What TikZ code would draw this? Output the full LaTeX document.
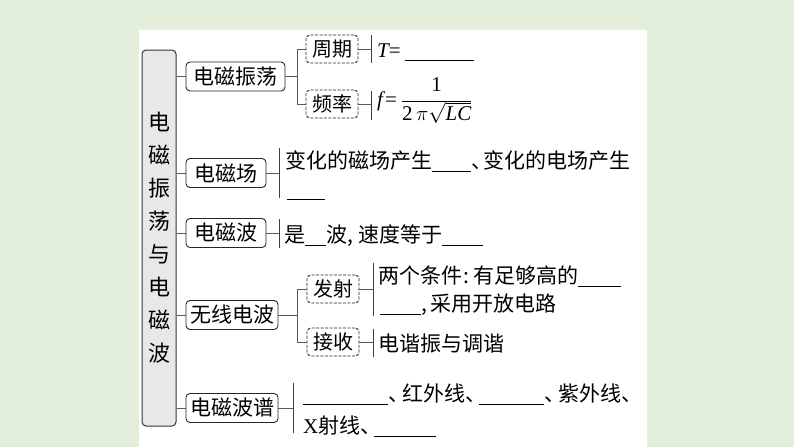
\documentclass[tikz,border=0pt]{standalone}
\usepackage{fontspec}
\setmainfont{Liberation Serif}
\newfontfamily\cjk{Noto Sans CJK SC}
\newcommand\blank[1]{\rule[-4pt]{#1}{0.8pt}}
\newcommand\dun{\makebox[14pt][l]{、}}
\definecolor{bggreen}{RGB}{227,239,218}
\begin{document}
\begin{tikzpicture}[x=1pt,y=-1pt,
  mainbox/.style={draw=black!80, line width=1pt, fill=black!9, rounded corners=4pt, minimum width=34pt, minimum height=376pt, inner sep=0pt, align=center, font=\cjk\fontsize{22}{33}\selectfont},
  topicbox/.style={draw=black!85, line width=0.9pt, fill=white, rounded corners=4pt, minimum height=29pt, inner sep=0pt, font=\cjk\fontsize{21}{21}\selectfont},
  subbox/.style={draw=black!85, dash pattern=on 3pt off 1.5pt, line width=0.9pt, rounded corners=4pt, minimum width=52pt, minimum height=28pt, inner sep=0pt, font=\cjk\fontsize{20}{20}\selectfont},
  txt/.style={anchor=base west, inner sep=0pt, font=\cjk\fontsize{21}{21}\selectfont},
  link/.style={draw=black!65, line width=0.9pt},
  bar/.style={draw=black!75, line width=0.9pt}]
\useasboundingbox (0,0) rectangle (794,447);
\fill[bggreen] (0,0) rectangle (794,447);
\fill[white] (139,30) rectangle (647,447);
% main
\node[mainbox] (main) at (159,238) {电\\磁\\振\\荡\\与\\电\\磁\\波};
% topics
\node[topicbox, minimum width=99pt] (t1) at (235.5,76.5) {电磁振荡};
\node[topicbox, minimum width=80pt] (t2) at (226,173) {电磁场};
\node[topicbox, minimum width=80pt] (t3) at (226,233) {电磁波};
\node[topicbox, minimum width=92pt] (t4) at (232,315) {无线电波};
\node[topicbox, minimum width=92pt] (t5) at (232,408) {电磁波谱};
\foreach \t in {t1,t2,t3,t4,t5} \draw[link] (main.east |- \t.west) -- (\t.west);
% sub boxes
\node[subbox] (s1) at (332,49) {周期};
\node[subbox] (s2) at (332,104) {频率};
\node[subbox] (s3) at (333,289) {发射};
\node[subbox] (s4) at (333,342) {接收};
\path (t1.east) ++(12,0) coordinate (j1);
\path (t4.east) ++(19,0) coordinate (j2);
\draw[link] (t1.east) -- (j1);
\draw[link] (s1.west) -- (s1.west -| j1) -- (s2.west -| j1) -- (s2.west);
\draw[link] (t4.east) -- (j2);
\draw[link] (s3.west) -- (s3.west -| j2) -- (s4.west -| j2) -- (s4.west);
% leaf bars
\coordinate (b1t) at (371,35);  \coordinate (b1b) at (371,63);
\coordinate (b2t) at (371,91);  \coordinate (b2b) at (371,120);
\coordinate (b3t) at (279,148); \coordinate (b3b) at (279,198);
\coordinate (b4t) at (279,219); \coordinate (b4b) at (279,248);
\coordinate (b5t) at (373,263); \coordinate (b5b) at (373,316);
\coordinate (b6t) at (373,329); \coordinate (b6b) at (373,357);
\coordinate (b7t) at (293,383); \coordinate (b7b) at (293,433);
\foreach \b in {1,...,7} \draw[bar] (b\b t) -- (b\b b);
\draw[link] (s1.east) -- (s1.east -| b1t);
\draw[link] (s2.east) -- (s2.east -| b2t);
\draw[link] (t2.east) -- (t2.east -| b3t);
\draw[link] (t3.east) -- (t3.east -| b4t);
\draw[link] (s3.east) -- (s3.east -| b5t);
\draw[link] (s4.east) -- (s4.east -| b6t);
\draw[link] (t5.east) -- (t5.east -| b7t);
% leaf texts
\node[txt] (x1) at (377,57) {{\rmfamily\itshape T}{\rmfamily=}\hspace{4pt}\blank{69pt}};
\node[txt] (x2) at (377,106) {{\rmfamily\itshape f}\hspace{2pt}{\rmfamily=}\hspace{4pt}$\displaystyle\frac{\textrm{1}}{\textrm{2}\,\pi\sqrt{\textrm{\itshape LC}}}$};
\node[txt] (x3a) at (285,168) {变化的磁场产生\blank{39pt}\makebox[12pt][l]{、}变化的电场产生};
\node[txt] (x3b) at (287,196) {\blank{38pt}};
\node[txt] (x4) at (284,242) {是\blank{21pt}波,\hspace{5pt}速度等于\blank{41pt}};
\node[txt] (x5a) at (378,283) {两个条件\hspace{1pt}:\hspace{4pt}有足够高的\blank{43pt}};
\node[txt] (x5b) at (380,311) {\blank{41pt},\hspace{3pt}采用开放电路};
\node[txt] (x6) at (378,351) {电谐振与调谐};
\node[txt] (x7a) at (303,401) {\blank{85pt}\dun 红外线\dun\blank{65pt}\dun 紫外线\dun};
\node[txt] (x7b) at (303,433) {{\rmfamily X}射线\dun\blank{62pt}};
\end{tikzpicture}
\end{document}
